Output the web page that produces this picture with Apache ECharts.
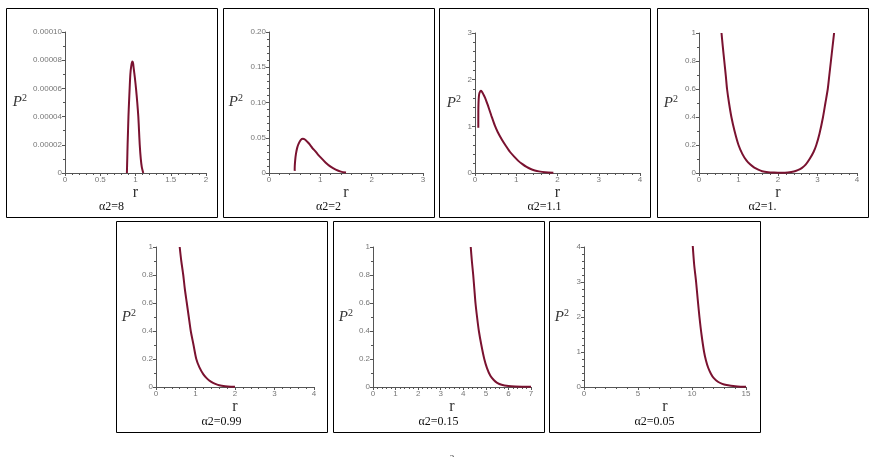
<!DOCTYPE html>
<html><head><meta charset="utf-8">
<script src="https://cdn.jsdelivr.net/npm/echarts@6/dist/echarts.min.js"></script>
<style>html,body{margin:0;padding:0;background:#fff}#c{width:875px;height:457px}</style>
</head><body><div id="c"></div>
<script>
// ---- data ----
const captions = ['α2=8', 'α2=2', 'α2=1.1', 'α2=1.', 'α2=0.99', 'α2=0.15', 'α2=0.05'];

const r1 = [0.878, 0.883, 0.888, 0.894, 0.900, 0.908, 0.917, 0.927, 0.940, 0.955, 0.965, 0.975, 0.990, 1.007, 1.025, 1.040, 1.050, 1.060, 1.075, 1.090, 1.110];
const p1 = [0, 0.00001, 0.00002, 0.00003, 0.00004, 0.00005, 0.00006, 0.00007, 0.000076, 0.000079, 0.000078, 0.000074, 0.000068, 0.00006, 0.00005, 0.00004, 0.00003, 0.00002, 0.00001, 0.000004, 0];

const r2 = [0.500, 0.502, 0.510, 0.525, 0.550, 0.580, 0.620, 0.660, 0.700, 0.750, 0.800, 0.850, 0.900, 0.950, 1.000, 1.100, 1.200, 1.300, 1.400, 1.500];
const p2 = [0.003, 0.010, 0.018, 0.027, 0.036, 0.042, 0.047, 0.0485, 0.0475, 0.044, 0.040, 0.035, 0.031, 0.0265, 0.0225, 0.015, 0.009, 0.0048, 0.002, 0.0007];

const r3 = [0.080, 0.081, 0.085, 0.095, 0.110, 0.140, 0.170, 0.200, 0.250, 0.300, 0.350, 0.400, 0.480, 0.550, 0.650, 0.750, 0.850, 0.950, 1.050, 1.150, 1.250, 1.350, 1.450, 1.550, 1.700, 1.900];
const p3 = [0.97, 1.30, 1.50, 1.65, 1.72, 1.76, 1.74, 1.69, 1.60, 1.48, 1.35, 1.22, 1.02, 0.88, 0.72, 0.58, 0.45, 0.35, 0.26, 0.19, 0.13, 0.085, 0.055, 0.035, 0.017, 0.006];

const r4 = [0.57, 0.60, 0.64, 0.68, 0.71, 0.76, 0.82, 0.90, 1.00, 1.10, 1.20, 1.30, 1.40, 1.50, 1.60, 1.75, 1.90, 2.00, 2.10, 2.25, 2.40, 2.50, 2.60, 2.70, 2.80, 2.90, 2.97, 3.05, 3.14, 3.20, 3.26, 3.30, 3.34, 3.38, 3.42];
const p4 = [1.00, 0.91, 0.80, 0.69, 0.60, 0.50, 0.40, 0.30, 0.20, 0.135, 0.09, 0.06, 0.038, 0.024, 0.013, 0.006, 0.003, 0.002, 0.002, 0.004, 0.010, 0.020, 0.035, 0.060, 0.100, 0.150, 0.20, 0.28, 0.40, 0.50, 0.60, 0.70, 0.80, 0.90, 1.00];

const r5 = [0.60, 0.64, 0.69, 0.73, 0.78, 0.83, 0.88, 0.95, 1.02, 1.10, 1.20, 1.30, 1.40, 1.50, 1.60, 1.75, 1.90, 2.00];
const p5 = [1.00, 0.90, 0.80, 0.70, 0.60, 0.50, 0.40, 0.30, 0.20, 0.14, 0.09, 0.058, 0.036, 0.022, 0.013, 0.006, 0.002, 0.001];

const r6 = [4.33, 4.38, 4.44, 4.49, 4.54, 4.61, 4.69, 4.80, 4.93, 5.05, 5.20, 5.35, 5.50, 5.70, 6.00, 6.30, 6.60, 7.00];
const p6 = [1.00, 0.90, 0.80, 0.70, 0.60, 0.50, 0.40, 0.30, 0.20, 0.135, 0.08, 0.05, 0.03, 0.016, 0.007, 0.003, 0.0015, 0.001];

const r7 = [10.07, 10.20, 10.38, 10.53, 10.69, 10.88, 11.12, 11.30, 11.50, 11.75, 12.00, 12.40, 12.80, 13.20, 13.60, 14.00, 14.50, 15.00];
const p7 = [4.03, 3.50, 3.00, 2.50, 2.00, 1.50, 1.00, 0.75, 0.55, 0.38, 0.26, 0.15, 0.09, 0.055, 0.035, 0.02, 0.01, 0.005];

// axis ranges
const xMax = [2, 3, 4, 4, 4, 7, 15];
const xStep = [0.5, 1, 1, 1, 1, 1, 5];
const yMax = [0.0001, 0.2, 3, 1, 1, 1, 4];
const yStep = [0.00002, 0.05, 1, 0.2, 0.2, 0.2, 1];
const yDecimals = [5, 2, 0, -1, -1, -1, 0];

const rs = [r1, r2, r3, r4, r5, r6, r7];
const ps = [p1, p2, p3, p4, p5, p6, p7];

// ---- layout ----
const boxes = [ // [x, y, w, h]
  [6, 8, 211, 209], [223, 8, 211, 209], [439, 8, 211, 209], [657, 8, 211, 209],
  [116, 221, 211, 211], [333, 221, 211, 211], [549, 221, 211, 211]
];
const grids = [ // [left, top, right, bottom] in px
  [65, 32, 206, 173], [269, 32, 423, 173], [475, 33, 640, 173], [699, 33, 857, 173],
  [156, 247, 314, 387], [373, 247, 531, 387], [584, 247, 746, 387]
];
const nameGaps = [38, 26, 14, 21, 20, 20, 15];
const yMinorSplit = [2, 5, 5, 2, 2, 2, 5];

const chart = echarts.init(document.getElementById('c'), null, {renderer: 'canvas'});
const gridOpt = [], xAxes = [], yAxes = [], series = [], graphics = [];
const labelStyle = {color: '#777', fontSize: 8, fontFamily: 'Liberation Sans, Arial, sans-serif'};
const axisColor = '#555';

for (let i = 0; i < 7; i++) {
  const g = grids[i];
  gridOpt.push({left: g[0], top: g[1], width: g[2] - g[0], height: g[3] - g[1], containLabel: false});
  xAxes.push({
    type: 'value', gridIndex: i, min: 0, max: xMax[i], interval: xStep[i],
    name: 'r', nameLocation: 'middle', nameGap: 9,
    nameTextStyle: {fontFamily: 'Liberation Serif, Times New Roman, serif', fontSize: 16, color: '#333', verticalAlign: 'top'},
    axisLine: {show: true, onZero: false, lineStyle: {color: axisColor, width: 1}},
    axisTick: {show: true, length: 3, lineStyle: {color: axisColor}},
    minorTick: {show: true, splitNumber: 5, length: 2, lineStyle: {color: axisColor}},
    splitLine: {show: false},
    axisLabel: Object.assign({margin: 3, hideOverlap: false}, labelStyle)
  });
  const d = yDecimals[i];
  yAxes.push({
    type: 'value', gridIndex: i, min: 0, max: yMax[i], interval: yStep[i],
    name: '{p|P}{s|2}', nameLocation: 'middle', nameGap: nameGaps[i], nameRotate: 0,
    nameTextStyle: {
      rich: {
        p: {fontFamily: 'Liberation Serif, Times New Roman, serif', fontStyle: 'italic', fontSize: 15, color: '#333'},
        s: {fontFamily: 'Liberation Serif, Times New Roman, serif', fontSize: 10, color: '#333', verticalAlign: 'top', padding: [0, 0, 8, 0]}
      }
    },
    axisLine: {show: true, onZero: false, lineStyle: {color: axisColor, width: 1}},
    axisTick: {show: true, length: 3, lineStyle: {color: axisColor}},
    minorTick: {show: true, splitNumber: yMinorSplit[i], length: 2, lineStyle: {color: axisColor}},
    splitLine: {show: false},
    axisLabel: Object.assign({
      margin: 3,
      formatter: function (v) {
        if (Math.abs(v) < 1e-12) return '0';
        if (d < 0) return String(Math.round(v * 10) / 10);
        return v.toFixed(d);
      }
    }, labelStyle)
  });
  const pts = rs[i].map((x, k) => [x, ps[i][k]]);
  series.push({
    type: 'line', xAxisIndex: i, yAxisIndex: i, data: pts,
    showSymbol: false, smooth: 0.25,
    lineStyle: {color: '#7a1230', width: 2},
    animation: false, silent: true
  });
  const b = boxes[i];
  graphics.push({
    type: 'rect', shape: {x: b[0] + 0.5, y: b[1] + 0.5, width: b[2], height: b[3]},
    style: {fill: 'none', stroke: '#000', lineWidth: 1}, silent: true
  });
  graphics.push({
    type: 'text', x: b[0] + b[2] / 2, y: b[1] + b[3] - 10,
    style: {text: captions[i], fill: '#111', font: '12px "Liberation Serif", serif', textAlign: 'center', textVerticalAlign: 'middle'}
  });
}
// cut-off caption fragment at the bottom edge
graphics.push({
  type: 'text', x: 452, y: 454,
  style: {text: '2', fill: '#222', font: '9px "Liberation Serif", serif', textAlign: 'center', textVerticalAlign: 'top'}
});

chart.setOption({
  animation: false,
  backgroundColor: '#fff',
  grid: gridOpt, xAxis: xAxes, yAxis: yAxes, series: series, graphic: graphics
});
</script></body></html>
